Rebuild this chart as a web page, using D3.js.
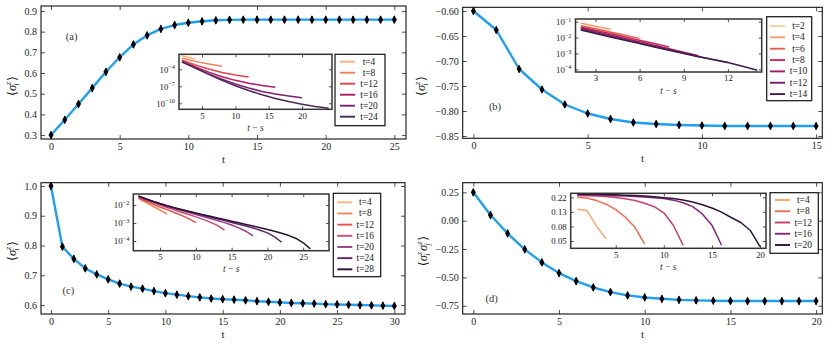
<!DOCTYPE html>
<html>
<head>
<meta charset="utf-8">
<script src="https://cdn.jsdelivr.net/npm/d3@7"></script>
<style>
  body { margin: 0; background: #fff; }
  svg { display: block; }
</style>
</head>
<body>
<svg id="fig" width="831" height="345"></svg>
<script>
// ---- main curves: <sigma> against t ----
const tA = [0,1,2,3,4,5,6,7,8,9,10,11,12,13,14,15,16,17,18,19,20,21,22,23,24,25];
const sA = [0.300,0.374,0.450,0.527,0.606,0.676,0.738,0.782,0.813,0.832,0.843,0.850,0.855,0.857,0.858,0.858,0.858,0.858,0.858,0.858,0.858,0.858,0.858,0.858,0.858,0.858];

const tB = [0,1,2,3,4,5,6,7,8,9,10,11,12,13,14,15];
const sB = [-0.600,-0.638,-0.716,-0.757,-0.787,-0.805,-0.816,-0.823,-0.826,-0.828,-0.829,-0.830,-0.830,-0.830,-0.830,-0.830];

const tC = [0,1,2,3,4,5,6,7,8,9,10,11,12,13,14,15,16,17,18,19,20,21,22,23,24,25,26,27,28,29,30];
const sC = [1.000,0.796,0.755,0.723,0.703,0.686,0.672,0.662,0.655,0.647,0.640,0.635,0.630,0.626,0.622,0.620,0.618,0.616,0.613,0.611,0.609,0.607,0.606,0.605,0.603,0.602,0.601,0.600,0.599,0.598,0.597];

const tD = [0,1,2,3,4,5,6,7,8,9,10,11,12,13,14,15,16,17,18,19,20];
const sD = [0.250,0.050,-0.112,-0.253,-0.368,-0.462,-0.533,-0.589,-0.630,-0.659,-0.677,-0.689,-0.698,-0.703,-0.706,-0.708,-0.709,-0.709,-0.709,-0.709,-0.709];

// tick values of the main axes
const xTicksA = [0,5,10,15,20,25];
const yTicksA = [0.3,0.4,0.5,0.6,0.7,0.8,0.9];
const xTicksB = [0,5,10,15];
const yTicksB = [-0.60,-0.65,-0.70,-0.75,-0.80,-0.85];
const xTicksC = [0,5,10,15,20,25,30];
const yTicksC = [0.6,0.7,0.8,0.9,1.0];
const xTicksD = [0,5,10,15,20];
const yTicksD = [0.25,0.00,-0.25,-0.50,-0.75];

// ---- insets: correlation against t - s (log10 of the value for a-c) ----
const insetA = [
  {t: 4,  x0: 2, step: 1, v: [-1.60,-1.93,-2.24]},
  {t: 8,  x0: 2, step: 2, v: [-2.05,-2.60,-3.05,-3.47]},
  {t: 12, x0: 2, step: 2, v: [-2.40,-3.25,-3.95,-4.55,-5.00,-5.36]},
  {t: 16, x0: 2, step: 2, v: [-2.60,-3.60,-4.50,-5.30,-5.95,-6.45,-6.85,-7.18]},
  {t: 20, x0: 2, step: 2, v: [-2.65,-3.75,-4.80,-5.75,-6.60,-7.30,-7.90,-8.35,-8.70,-9.00]},
  {t: 24, x0: 2, step: 2, v: [-2.70,-3.80,-4.90,-5.95,-6.90,-7.75,-8.50,-9.15,-9.70,-10.15,-10.55,-10.88]}
];
const insetB = [
  {t: 2,  x0: 2, step: 1, v: [-1.05]},
  {t: 4,  x0: 2, step: 1, v: [-1.10,-1.29,-1.48]},
  {t: 6,  x0: 2, step: 1, v: [-1.25,-1.45,-1.65,-1.85,-2.05]},
  {t: 8,  x0: 2, step: 1, v: [-1.33,-1.54,-1.75,-1.96,-2.17,-2.38,-2.60]},
  {t: 10, x0: 2, step: 1, v: [-1.40,-1.62,-1.84,-2.06,-2.27,-2.49,-2.71,-2.93,-3.15]},
  {t: 12, x0: 2, step: 1, v: [-1.46,-1.69,-1.91,-2.13,-2.35,-2.56,-2.77,-2.98,-3.19,-3.38,-3.57]},
  {t: 14, x0: 2, step: 1, v: [-1.52,-1.74,-1.96,-2.17,-2.38,-2.59,-2.80,-3.00,-3.21,-3.39,-3.57,-3.81,-4.06]}
];
const insetC = [
  {t: 4,  x0: 2, step: 1, v: [-1.62]},
  {t: 8,  x0: 2, step: 1, v: [-1.64,-1.86,-2.07,-2.28,-2.50]},
  {t: 12, x0: 2, step: 1, v: [-1.60,-1.78,-1.95,-2.11,-2.26,-2.42,-2.58,-2.76,-2.98]},
  {t: 16, x0: 2, step: 1, v: [-1.56,-1.72,-1.87,-2.01,-2.14,-2.27,-2.40,-2.53,-2.66,-2.80,-2.95,-3.13,-3.39]},
  {t: 20, x0: 2, step: 1, v: [-1.53,-1.68,-1.82,-1.95,-2.08,-2.20,-2.31,-2.42,-2.53,-2.64,-2.75,-2.86,-2.98,-3.11,-3.27,-3.46,-3.72]},
  {t: 24, x0: 2, step: 1, v: [-1.51,-1.66,-1.80,-1.93,-2.05,-2.16,-2.27,-2.37,-2.47,-2.57,-2.67,-2.77,-2.87,-2.97,-3.07,-3.17,-3.28,-3.40,-3.55,-3.77,-4.07]},
  {t: 28, x0: 2, step: 1, v: [-1.50,-1.65,-1.79,-1.92,-2.04,-2.15,-2.25,-2.35,-2.45,-2.54,-2.63,-2.72,-2.81,-2.90,-2.99,-3.08,-3.17,-3.26,-3.36,-3.46,-3.57,-3.70,-3.86,-4.10,-4.44]}
];
// panel (d) inset stores the plain values
const insetD = [
  {t: 4,  x0: 1, step: 1, v: [0.141,0.136,0.078,0.050]},
  {t: 8,  x0: 1, step: 1, v: [0.215,0.210,0.192,0.169,0.140,0.107,0.075,0.042]},
  {t: 12, x0: 1, step: 1, v: [0.230,0.228,0.225,0.221,0.214,0.205,0.192,0.175,0.155,0.125,0.080,0.040]},
  {t: 16, x0: 1, step: 1, v: [0.237,0.236,0.234,0.231,0.228,0.225,0.222,0.218,0.213,0.207,0.195,0.178,0.155,0.120,0.081,0.040]},
  {t: 20, x0: 1, step: 1, v: [0.241,0.240,0.239,0.237,0.235,0.232,0.229,0.225,0.220,0.213,0.206,0.196,0.183,0.166,0.148,0.128,0.106,0.089,0.067,0.038]}
];

const insetXTicksA = [5,10,15,20];
const insetYTicksA = [1e-4,1e-7,1e-10];
const insetXTicksB = [3,6,9,12];
const insetYTicksB = [1e-1,1e-2,1e-3,1e-4];
const insetXTicksC = [5,10,15,20,25];
const insetYTicksC = [1e-2,1e-3,1e-4];
const insetXTicksD = [5,10,15,20];
const insetYTicksD = [0.2154,0.1292,0.0774,0.0464];

// rocket-like palettes, light to dark
const colorsA = ['#f8b47c','#f3825c','#e4434b','#b1185d','#7e1f71','#4a2859'];
const colorsB = ['#f9cda0','#f59a6c','#ec5a48','#cd2a55','#a31963','#6f2068','#3a1e4b'];
const colorsC = ['#f9b57c','#f4875c','#e9524a','#c94a6e','#9c3d80','#66226c','#2a1235'];
const colorsD = ['#f7a66d','#ee6a53','#c5406b','#86257a','#2e1538'];

const FONT = '"Liberation Serif", "DejaVu Serif", serif';
const BLUE = '#1e9ff2';
const svg = d3.select('#fig');

const panels = [
  {t: tA, s: sA, box: {l: 41, r: 406, t: 6, b: 139}, xDom: [-0.73, 25.85], yDom: [0.281, 0.924],
   xTicks: xTicksA, yTicks: yTicksA, yFmt: d3.format('.1f'), yLab: [12, 86], yLabKind: 'single', tag: '(a)', tagPos: [71.7, 36],
   inset: {lines: insetA, colors: colorsA, log10: true, box: {l: 179, r: 332, t: 54.3, b: 109.3}, xDom: [1.55, 24.5], yDom: [10 ** -11.06, 10 ** -1.35],
           xTicks: insetXTicksA, yTicks: insetYTicksA},
   legend: {box: {l: 335, r: 385, t: 54.3, b: 125.7}, y0: 61.7, dy: 11, x1: 340, x2: 355, tx: 369}},
  {t: tB, s: sB, box: {l: 462.7, r: 822.3, t: 7.3, b: 138.3}, xDom: [-0.47, 15.27], yDom: [-0.8546, -0.5926],
   xTicks: xTicksB, yTicks: yTicksB, yFmt: d3.format('.2f'), yLab: [421, 86], yLabKind: 'single', tag: '(b)', tagPos: [495, 106],
   inset: {lines: insetB, colors: colorsB, log10: true, box: {l: 575.5, r: 761.7, t: 19, b: 72}, xDom: [1.64, 14.3], yDom: [10 ** -4.17, 10 ** -0.83],
           xTicks: insetXTicksB, yTicks: insetYTicksB},
   legend: {box: {l: 766.7, r: 811.7, t: 16.7, b: 100.7}, y0: 26, dy: 11.35, x1: 770, x2: 785, tx: 798.5}},
  {t: tC, s: sC, box: {l: 41, r: 405, t: 182.7, b: 314}, xDom: [-0.87, 30.93], yDom: [0.57, 1.011],
   xTicks: xTicksC, yTicks: yTicksC, yFmt: d3.format('.1f'), yLab: [12, 251], yLabKind: 'single', tag: '(c)', tagPos: [68.3, 290],
   inset: {lines: insetC, colors: colorsC, log10: true, box: {l: 133.3, r: 329, t: 194, b: 250.7}, xDom: [1.27, 28.6], yDom: [10 ** -4.54, 10 ** -1.39],
           xTicks: insetXTicksC, yTicks: insetYTicksC},
   legend: {box: {l: 333.3, r: 380.7, t: 193.3, b: 276.7}, y0: 202.3, dy: 11.17, x1: 337.3, x2: 352.3, tx: 365.3}},
  {t: tD, s: sD, box: {l: 462.7, r: 822.3, t: 182.7, b: 314}, xDom: [-0.62, 20.36], yDom: [-0.823, 0.335],
   xTicks: xTicksD, yTicks: yTicksD, yFmt: d3.format('.2f'), yLab: [423, 251], yLabKind: 'pair', tag: '(d)', tagPos: [491.7, 298.3],
   inset: {lines: insetD, colors: colorsD, log10: false, box: {l: 570.7, r: 766, t: 193.3, b: 248.3}, xDom: [0.32, 20.62], yDom: [0.0359, 0.248],
           xTicks: insetXTicksD, yTicks: insetYTicksD, yFmt: d3.format('.2f')},
   legend: {box: {l: 770, r: 818.3, t: 192.7, b: 253.3}, y0: 200, dy: 11.25, x1: 775, x2: 790, tx: 803.3}}
];

// Inward ticks on all four sides, labels only on bottom/left.
function drawAxes(g, x, y, box, o) {
  const bottom = g.append('g').attr('transform', `translate(0,${box.b})`)
    .call(d3.axisBottom(x).tickValues(o.xTicks).tickSizeInner(-o.len).tickSizeOuter(0).tickPadding(o.padX).tickFormat(d3.format('d')));
  const top = g.append('g').attr('transform', `translate(0,${box.t})`)
    .call(d3.axisTop(x).tickValues(o.xTicks).tickSizeInner(-o.len).tickSizeOuter(0).tickFormat(''));
  const left = g.append('g').attr('transform', `translate(${box.l},0)`)
    .call(d3.axisLeft(y).tickValues(o.yTicks).tickSizeInner(-o.len).tickSizeOuter(0).tickPadding(o.padY).tickFormat(o.yFmt || (() => '')));
  const right = g.append('g').attr('transform', `translate(${box.r},0)`)
    .call(d3.axisRight(y).tickValues(o.yTicks).tickSizeInner(-o.len).tickSizeOuter(0).tickFormat(''));
  [bottom, top, left, right].forEach(a => {
    a.select('.domain').remove();
    a.attr('font-family', FONT).attr('font-size', o.fs);
    a.selectAll('.tick line').attr('stroke', '#222').attr('stroke-width', 0.8);
    a.selectAll('.tick text').attr('fill', '#222');
  });
  return {bottom, left};
}

function yLabel(p) {
  const txt = svg.append('text')
    .attr('transform', `translate(${p.yLab[0]},${p.yLab[1]}) rotate(-90)`)
    .attr('text-anchor', 'middle').attr('dominant-baseline', 'central')
    .attr('font-family', FONT).attr('font-size', 12.5).attr('fill', '#222');
  txt.append('tspan').text('⟨');
  const sigma = sub => {
    txt.append('tspan').attr('font-style', 'italic').text('σ');
    txt.append('tspan').attr('font-size', 8).attr('font-style', 'italic').attr('dy', -4.5).text('z');
    txt.append('tspan').attr('font-size', 8).attr('font-style', 'italic').attr('dx', -3.8).attr('dy', 8).text(sub);
    txt.append('tspan').attr('dy', -3.5).text('\u2009');
  };
  sigma('i');
  if (p.yLabKind === 'pair') sigma('j');
  txt.append('tspan').text('⟩');
}

panels.forEach(p => {
  const g = svg.append('g');
  const x = d3.scaleLinear().domain(p.xDom).range([p.box.l, p.box.r]);
  const y = d3.scaleLinear().domain(p.yDom).range([p.box.b, p.box.t]);
  const pts = p.t.map((t, i) => ({t, s: p.s[i]}));

  drawAxes(g, x, y, p.box, {xTicks: p.xTicks, yTicks: p.yTicks, yFmt: p.yFmt, len: 4, padX: 3.4, padY: 4, fs: 10});

  g.append('path').datum(pts)
    .attr('fill', 'none').attr('stroke', BLUE).attr('stroke-width', 2.4).attr('stroke-linejoin', 'round')
    .attr('d', d3.line().x(d => x(d.t)).y(d => y(d.s)));

  const mk = g.append('g').selectAll('g').data(pts).join('g')
    .attr('transform', d => `translate(${x(d.t)},${y(d.s)})`);
  mk.append('path').attr('d', d3.symbol(d3.symbolDiamond, 22)).attr('fill', '#000');
  mk.append('line').attr('y1', -3.6).attr('y2', 3.6).attr('stroke', '#000').attr('stroke-width', 1.4);

  g.append('rect')
    .attr('x', p.box.l).attr('y', p.box.t).attr('width', p.box.r - p.box.l).attr('height', p.box.b - p.box.t)
    .attr('fill', 'none').attr('stroke', '#111').attr('stroke-width', 1.1);

  g.append('text').attr('x', (p.box.l + p.box.r) / 2).attr('y', p.box.b + 19.5)
    .attr('text-anchor', 'middle').attr('dominant-baseline', 'central')
    .attr('font-family', FONT).attr('font-size', 11).attr('fill', '#222').text('t');

  g.append('text').attr('x', p.tagPos[0]).attr('y', p.tagPos[1])
    .attr('text-anchor', 'middle').attr('dominant-baseline', 'central')
    .attr('font-family', FONT).attr('font-size', 10.5).attr('fill', '#333').text(p.tag);

  yLabel(p);

  // ---- inset ----
  const q = p.inset;
  const ig = svg.append('g');
  ig.append('rect')
    .attr('x', q.box.l).attr('y', q.box.t).attr('width', q.box.r - q.box.l).attr('height', q.box.b - q.box.t)
    .attr('fill', '#fff');
  const ix = d3.scaleLinear().domain(q.xDom).range([q.box.l, q.box.r]);
  const iy = d3.scaleLog().domain(q.yDom).range([q.box.b, q.box.t]);
  const iax = drawAxes(ig, ix, iy, q.box, {xTicks: q.xTicks, yTicks: q.yTicks, yFmt: q.yFmt || (() => '10'), len: 3, padX: 3.2, padY: 4, fs: 8.8});
  if (q.log10) {
    iax.left.selectAll('.tick text').each(function(d) {
      const t = d3.select(this);
      t.text(null);
      t.append('tspan').text('10');
      t.append('tspan').attr('dy', '-0.5em').attr('font-size', 6.3).text('\u2212' + Math.round(-Math.log10(d)));
    });
  }

  const iline = d3.line().x(d => ix(d[0])).y(d => iy(d[1]));
  ig.append('g').selectAll('path').data(q.lines).join('path')
    .attr('fill', 'none')
    .attr('stroke', (d, i) => q.colors[i])
    .attr('stroke-width', 1.5).attr('stroke-linejoin', 'round')
    .attr('d', d => iline(d.v.map((v, k) => [d.x0 + k * d.step, q.log10 ? Math.pow(10, v) : v])));

  ig.append('rect')
    .attr('x', q.box.l).attr('y', q.box.t).attr('width', q.box.r - q.box.l).attr('height', q.box.b - q.box.t)
    .attr('fill', 'none').attr('stroke', '#333').attr('stroke-width', 1.5);

  const il = ig.append('text').attr('x', (q.box.l + q.box.r) / 2).attr('y', q.box.b + 18.6)
    .attr('text-anchor', 'middle').attr('dominant-baseline', 'central')
    .attr('font-family', FONT).attr('font-size', 9.5).attr('fill', '#333');
  il.append('tspan').attr('font-style', 'italic').text('t');
  il.append('tspan').text(' \u2212 ');
  il.append('tspan').attr('font-style', 'italic').text('s');

  // ---- legend ----
  const L = p.legend;
  const lg = svg.append('g');
  lg.append('rect')
    .attr('x', L.box.l).attr('y', L.box.t).attr('width', L.box.r - L.box.l).attr('height', L.box.b - L.box.t)
    .attr('fill', '#fff').attr('stroke', '#111').attr('stroke-width', 1.2);
  const rows = lg.selectAll('g.row').data(q.lines).join('g').attr('class', 'row')
    .attr('transform', (d, i) => `translate(0,${L.y0 + i * L.dy})`);
  rows.append('line').attr('x1', L.x1).attr('x2', L.x2)
    .attr('stroke', (d, i) => q.colors[i]).attr('stroke-width', 1.9);
  rows.append('text').attr('x', L.tx).attr('dominant-baseline', 'central')
    .attr('text-anchor', 'middle')
    .attr('font-family', FONT).attr('font-size', 9.5).attr('fill', '#222')
    .text(d => `t=${d.t}`);
});
</script>
</body>
</html>
